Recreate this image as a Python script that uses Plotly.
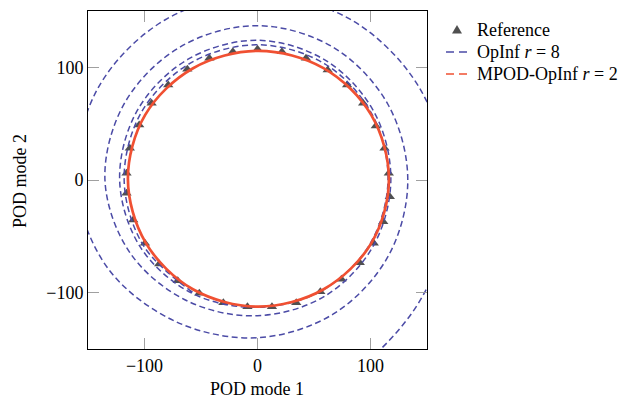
import plotly.graph_objects as go

# Reference trajectory samples (one period)
ref_x = [-115.9, -113.0, -104.7, -93.7, -79.0, -62.1, -42.6, -21.8, 0.0, 21.6, 42.9,
         62.1, 79.3, 93.5, 104.7, 112.4, 116.2, 117.1, 111.3, 102.9, 90.5, 74.3, 55.6,
         34.3, 12.8, -8.9, -30.2, -51.5, -70.6, -87.0, -99.6, -110.0, -115.9]
ref_y = [5.9, 28.1, 48.8, 68.1, 84.3, 98.2, 108.0, 113.8, 116.0, 113.8, 108.0,
         97.6, 84.3, 68.1, 47.9, 28.1, 5.9, -14.8, -37.0, -56.2, -73.4, -88.1, -99.1,
         -108.9, -112.4, -112.4, -108.9, -100.5, -89.4, -74.5, -56.2, -35.5, -11.8]

# OpInf r = 8 prediction (spirals outward)
opinf_x = [-57.5, -100.9, -118.0, -103.1, -59.8, 0.0, 59.5, 101.3, 115.5, 99.2, 56.8, 0.0,
           -58.0, -103.5, -122.0, -106.5, -61.8, 0.0, 61.0, 103.5, 118.0, 102.2, 59.5, 0.0,
           -62.0, -112.6, -135.0, -117.8, -68.3, 0.0, 67.8, 115.6, 133.0, 116.0, 68.3, 0.0,
           -72.5, -133.4, -160.5, -141.2, -82.0, 0.0, 82.3, 142.9, 168.0, 153.3, 106.8, 50.8]
opinf_y = [-99.6, -58.3, 0.0, 59.5, 103.5, 120.0, 103.1, 58.5, 0.0, -57.3, -98.3, -113.0,
           -100.5, -59.8, 0.0, 61.5, 107.0, 124.0, 105.7, 59.8, 0.0, -59.0, -103.1, -120.5,
           -107.4, -65.0, 0.0, 68.0, 118.2, 137.0, 117.3, 66.8, 0.0, -67.0, -118.2, -140.0,
           -125.6, -77.0, 0.0, 81.5, 142.0, 164.5, 142.5, 82.5, 0.0, -88.5, -152.3, -189.3]

# MPOD-OpInf r = 2 prediction (closed orbit)
mpod_x = [116.3, 100.6, 58.4, 0.8, -57.0, -99.4, -114.7, -99.0, -57.2, 0.8, 58.2, 100.9, 116.3]
mpod_y = [1.0, 57.8, 99.3, 114.6, 99.2, 57.8, 1.0, -55.6, -97.0, -112.4, -97.2, -55.8, 1.0]

tick_vals = [-100, 0, 100]
tick_text = ["\u2212100", "0", "100"]

legend_labels = ["Reference", "OpInf <i>r</i> = 8", "MPOD-OpInf <i>r</i> = 2"]
x_title = "POD mode 1"
y_title = "POD mode 2"

BLUE = "#4B4BA6"
RED = "#F05032"
GREY = "#505050"
FONT = "Liberation Serif"
DASH = "6px,3.5px"

W, H = 639, 398
ML, MR, MT, MB = 88, 212, 11, 49
PW, PH = W - ML - MR, H - MT - MB


def px_to_paper(px, py):
    return (px - ML) / PW, (H - MB - py) / PH


fig = go.Figure()
fig.add_trace(go.Scatter(x=ref_x, y=ref_y, mode="markers",
                         marker=dict(symbol="triangle-up", size=9, color=GREY),
                         showlegend=False))
fig.add_trace(go.Scatter(x=opinf_x, y=opinf_y, mode="lines",
                         line=dict(color=BLUE, width=1.5, dash=DASH, shape="spline"),
                         showlegend=False))
fig.add_trace(go.Scatter(x=mpod_x, y=mpod_y, mode="lines",
                         line=dict(color=RED, width=2.7, shape="spline"),
                         showlegend=False))

axis_common = dict(range=[-150, 150], tickvals=tick_vals, ticktext=tick_text,
                   ticks="inside", ticklen=11, tickcolor="#a0a0a0", tickwidth=1,
                   showline=True, linecolor="black", linewidth=1, mirror="ticks",
                   showgrid=False, zeroline=False, automargin=False,
                   tickfont=dict(family=FONT, size=18, color="black"))

fig.update_layout(
    width=W, height=H,
    margin=dict(l=ML, r=MR, t=MT, b=MB, pad=0, autoexpand=False),
    paper_bgcolor="white", plot_bgcolor="white",
    font=dict(family=FONT, size=18, color="black"),
    xaxis=axis_common,
    yaxis=axis_common,
    showlegend=False,
)

shapes = []
annotations = []

# Axis titles
tx, ty = px_to_paper(257, 389)
annotations.append(dict(text=x_title, xref="paper", yref="paper", x=tx, y=ty,
                        xanchor="center", yanchor="middle", showarrow=False,
                        font=dict(family=FONT, size=18, color="black")))
tx, ty = px_to_paper(20, 181)
annotations.append(dict(text=y_title, xref="paper", yref="paper", x=tx, y=ty,
                        xanchor="center", yanchor="middle", showarrow=False,
                        textangle=-90,
                        font=dict(family=FONT, size=18, color="black")))

# Legend drawn to the right of the axes
row_y = [30, 52, 74]
sym_cx = 457
line_x0, line_x1 = 446, 468
text_x = 475

ax_, ay_ = px_to_paper(sym_cx, row_y[0])
shapes.append(dict(type="path", xref="paper", yref="paper", xsizemode="pixel",
                   ysizemode="pixel", xanchor=ax_, yanchor=ay_,
                   path="M-5,-3.5 L5,-3.5 L0,5 Z", fillcolor=GREY,
                   line=dict(width=0)))
for ry, col in zip(row_y[1:], [BLUE, RED]):
    x0, y0 = px_to_paper(line_x0, ry)
    x1, _ = px_to_paper(line_x1, ry)
    shapes.append(dict(type="line", xref="paper", yref="paper", x0=x0, x1=x1,
                       y0=y0, y1=y0, line=dict(color=col, width=1.6, dash="8px,5px")))
for ry, lab in zip(row_y, legend_labels):
    tx, ty = px_to_paper(text_x, ry)
    annotations.append(dict(text=lab, xref="paper", yref="paper", x=tx, y=ty,
                            xanchor="left", yanchor="middle", showarrow=False,
                            font=dict(family=FONT, size=18, color="black")))

fig.update_layout(shapes=shapes, annotations=annotations)

fig.write_html("out.html")
